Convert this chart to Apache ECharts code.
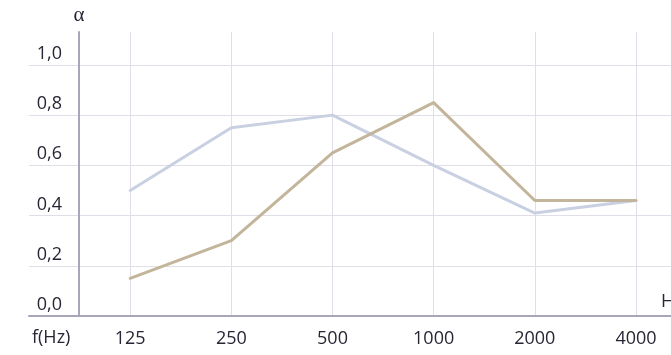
<!DOCTYPE html>
<html>
<head>
<meta charset="utf-8">
<script src="https://cdn.jsdelivr.net/npm/echarts@6/dist/echarts.min.js"></script>
<style>html,body{margin:0;padding:0;background:#fff;}#c{width:671px;height:355px;}</style>
</head>
<body>
<div id="c"></div>
<script>
const frequencies = ['125', '250', '500', '1000', '2000', '4000'];
const seriesBlue = [0.50, 0.75, 0.80, 0.60, 0.41, 0.46];
const seriesTan = [0.15, 0.30, 0.65, 0.85, 0.46, 0.46];
const yTicks = [0, 0.2, 0.4, 0.6, 0.8, 1.0];

const font = '"Open Sans", sans-serif';
const textColor = '#262635';
const chart = echarts.init(document.getElementById('c'), null, {renderer: 'canvas'});
const toPairs = arr => arr.map((v, i) => [i, v]);

chart.setOption({
  animation: false,
  grid: {left: 29, right: 0, top: 32, bottom: 39, containLabel: false},
  xAxis: {
    type: 'value', min: -1, max: 5.346, interval: 1,
    axisLine: {show: true, lineStyle: {color: '#a9a6b9', width: 2}},
    axisTick: {show: false},
    splitLine: {show: true, showMinLine: false, showMaxLine: false, lineStyle: {color: '#e0dfe7', width: 1}},
    axisLabel: {
      margin: 14, color: textColor, fontFamily: font, fontSize: 18,
      showMaxLabel: false,
      formatter: v => (Number.isInteger(v) && v >= 0 && v < frequencies.length) ? frequencies[v] : ''
    }
  },
  yAxis: {
    type: 'value', min: 0, max: 1.131, interval: 0.2,
    offset: -50,
    name: 'α', nameLocation: 'end', nameGap: 6,
    nameTextStyle: {fontFamily: '"Liberation Serif", serif', fontSize: 21, color: textColor, align: 'center'},
    axisLine: {show: true, onZero: false, lineStyle: {color: '#a9a6b9', width: 2}},
    axisTick: {show: false},
    splitLine: {show: true, showMaxLine: false, lineStyle: {color: '#e0dfe7', width: 1}},
    axisLabel: {
      margin: 17, color: textColor, fontFamily: font, fontSize: 18,
      verticalAlign: 'bottom', padding: [0, 0, 2, 0],
      showMaxLabel: false,
      formatter: v => {
        const t = yTicks.find(k => Math.abs(k - v) < 1e-6);
        return t === undefined ? '' : t.toFixed(1).replace('.', ',');
      }
    }
  },
  graphic: [
    {type: 'text', left: 32, top: 329, style: {text: 'f(Hz)', font: '18px ' + font, fill: textColor}},
    {type: 'text', left: 661, top: 293, style: {text: 'Hz', font: '18px ' + font, fill: textColor}}
  ],
  series: [
    {type: 'line', data: toPairs(seriesBlue), showSymbol: false, lineStyle: {color: '#c9d0e1', width: 3, cap: 'round', join: 'round'}, z: 2},
    {type: 'line', data: toPairs(seriesTan), showSymbol: false, lineStyle: {color: '#c3b59b', width: 3, cap: 'round', join: 'round'}, z: 3}
  ]
});
</script>
</body>
</html>
